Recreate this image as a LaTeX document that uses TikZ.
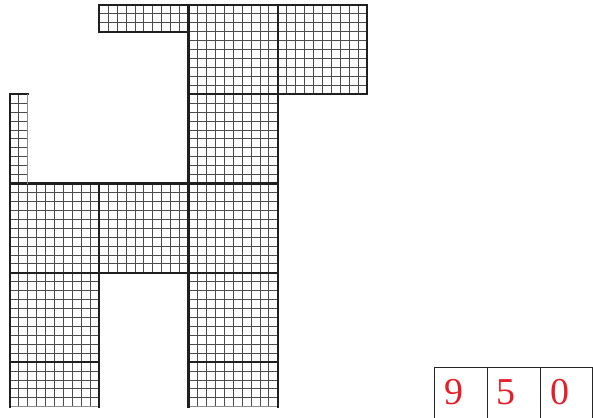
\documentclass[tikz,border=0pt]{standalone}
\usepackage{fontspec}
\setmainfont{Liberation Serif}
\definecolor{digitred}{RGB}{230,30,40}
\tikzset{
  cellgrid/.style={draw=black!70, line width=1pt},
  blockedge/.style={draw=black!88, line width=2.3pt, line cap=rect},
  softedge/.style={draw=black!45, line width=1pt},
  numbox/.style={draw=black!85, line width=0.8pt},
  digit/.style={text=digitred, font=\fontsize{38}{40}\selectfont, inner sep=0pt, anchor=center}
}
\newcommand{\cellpatch}[4]{%
  \foreach \ii in {0,...,#3} {\draw[cellgrid] (#1+\ii,#2) -- (#1+\ii,#2+#4);}
  \foreach \jj in {0,...,#4} {\draw[cellgrid] (#1,#2+\jj) -- (#1+#3,#2+\jj);}
}
\begin{document}
\begin{tikzpicture}[x=8.93pt, y=-8.93pt]
\useasboundingbox (-1.12,-0.56) rectangle (65.29,46.25);
% hundred squares
\foreach \bx/\by in {20/0, 30/0, 20/10, 0/20, 10/20, 20/20, 0/30, 20/30} {
  \cellpatch{\bx}{\by}{10}{10}
}
% strips of tens
\cellpatch{10}{0}{10}{3}
\cellpatch{0}{10}{2}{10}
\cellpatch{0}{40}{10}{5}
\cellpatch{20}{40}{10}{5}
% thick borders
\foreach \bx/\by in {20/0, 30/0, 20/10, 0/20, 10/20, 20/20, 0/30, 20/30} {
  \draw[blockedge] (\bx,\by) rectangle (\bx+10,\by+10);
}
\draw[blockedge] (10,0) rectangle (20,3);
\draw[blockedge] (0,20) -- (0,10) -- (2,10);
\draw[softedge] (2,10) -- (2,20);
\draw[softedge] (0,45) -- (10,45);
\draw[softedge] (20,45) -- (30,45);
\draw[blockedge] (0,40) -- (0,45);
\draw[blockedge] (10,40) -- (10,45);
\draw[blockedge] (20,40) -- (20,45);
\draw[blockedge] (30,40) -- (30,45);
% place value boxes
\coordinate (b0) at (47.48,40.54);
\coordinate (b1) at (53.49,40.54);
\coordinate (b2) at (59.35,40.54);
\coordinate (b3) at (65.17,40.54);
\draw[numbox] (b0) -- (b3);
\draw[numbox] (b0) -- (47.48,46.3);
\draw[numbox] (b1) -- (53.49,46.3);
\draw[numbox] (b2) -- (59.35,46.3);
\draw[numbox] (b3) -- (65.17,46.3);
\node[digit] (hundreds) at (49.72,43.39) {9};
\node[digit] (tens) at (55.6,43.39) {5};
\node[digit] (ones) at (61.56,43.39) {0};
\end{tikzpicture}
\end{document}
